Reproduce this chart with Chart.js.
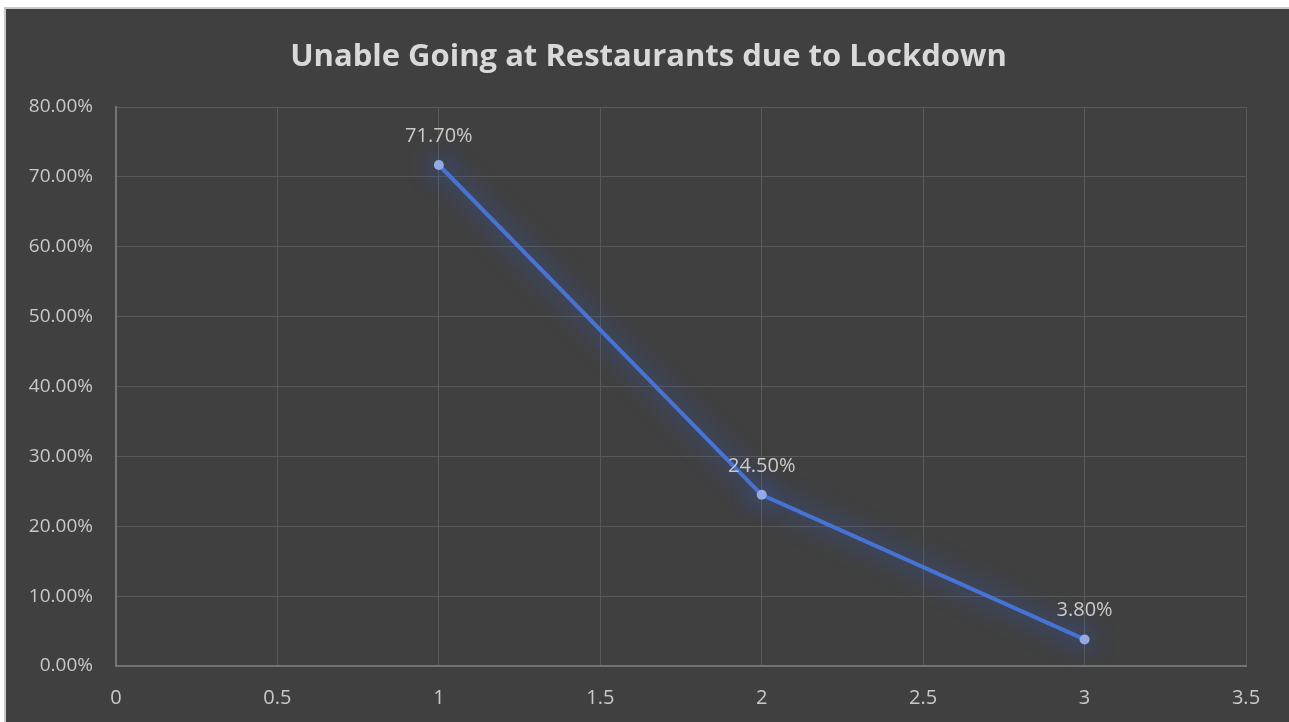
<!DOCTYPE html>
<html>
<head>
<meta charset="utf-8">
<script src="https://cdn.jsdelivr.net/npm/chart.js@4"></script>
<style>
  html, body { margin: 0; padding: 0; background: #ffffff; overflow: hidden; }
  #frame {
    position: absolute; left: 4px; top: 7px;
    width: 1285px; height: 715px;
    border-left: 2px solid #c9c9c9; border-top: 2px solid #c9c9c9;
    background: #404040;
  }
  canvas { display: block; }
</style>
</head>
<body>
<div id="frame"><canvas id="lockdownChart" width="1285" height="713"></canvas></div>
<script>
// Chart data
const xPoints = [1, 2, 3];
const shares = [0.717, 0.245, 0.038];
const pointLabels = ['71.70%', '24.50%', '3.80%'];
const titleText = 'Unable Going at Restaurants due to Lockdown';

const FONT = '"Open Sans", "Liberation Sans", sans-serif';

// glow behind the line, value labels above points, centred title
const glowPlugin = {
    id: 'glow',
    beforeDatasetDraw(chart) {
        const ctx = chart.ctx;
        ctx.save();
        ctx.shadowColor = 'rgba(50, 100, 235, 1)';
        ctx.shadowBlur = 26;
    },
    afterDatasetDraw(chart) {
        chart.ctx.restore();
    },
    afterDatasetsDraw(chart) {
        const ctx = chart.ctx;
        const meta = chart.getDatasetMeta(0);
        ctx.save();
        ctx.font = '20px ' + FONT;
        ctx.fillStyle = '#c9c9c9';
        ctx.textAlign = 'center';
        ctx.textBaseline = 'middle';
        meta.data.forEach((pt, i) => {
            ctx.fillText(pointLabels[i], pt.x, pt.y - 29);
        });

        ctx.font = 'bold 31px ' + FONT;
        ctx.fillStyle = '#d9d9d9';
        ctx.fillText(titleText, chart.width / 2, 48);
        ctx.restore();
    }
};

const ctx = document.getElementById('lockdownChart').getContext('2d');
new Chart(ctx, {
    type: 'line',
    data: {
        datasets: [{
            data: xPoints.map((x, i) => ({ x: x, y: shares[i] })),
            borderColor: '#4674d4',
            borderWidth: 4,
            pointBackgroundColor: '#93abe2',
            pointBorderColor: '#93abe2',
            pointRadius: 5,
            pointBorderWidth: 0,
            tension: 0,
            fill: false
        }]
    },
    options: {
        responsive: false,
        animation: false,
        devicePixelRatio: 1,
        layout: { padding: { left: 0, right: 45, top: 98, bottom: 0 } },
        plugins: {
            legend: { display: false },
            tooltip: { enabled: false },
            title: { display: false }
        },
        scales: {
            x: {
                type: 'linear',
                min: 0,
                max: 3.5,
                afterFit(scale) { scale.height = 56; },
                ticks: {
                    stepSize: 0.5,
                    color: '#c9c9c9',
                    font: { family: FONT, size: 20 },
                    padding: 20,
                    maxRotation: 0,
                    callback: (v) => String(v)
                },
                grid: { color: '#595959', lineWidth: 1, drawTicks: false },
                border: { color: '#737373', width: 2 }
            },
            y: {
                min: 0,
                max: 0.8,
                afterFit(scale) { scale.width = 110; },
                ticks: {
                    stepSize: 0.1,
                    color: '#c9c9c9',
                    font: { family: FONT, size: 19 },
                    padding: 23,
                    callback: (v) => (v * 100).toFixed(2) + '%'
                },
                grid: { color: '#595959', lineWidth: 1, drawTicks: false },
                border: { color: '#737373', width: 2 }
            }
        }
    },
    plugins: [glowPlugin]
});
</script>
</body>
</html>
